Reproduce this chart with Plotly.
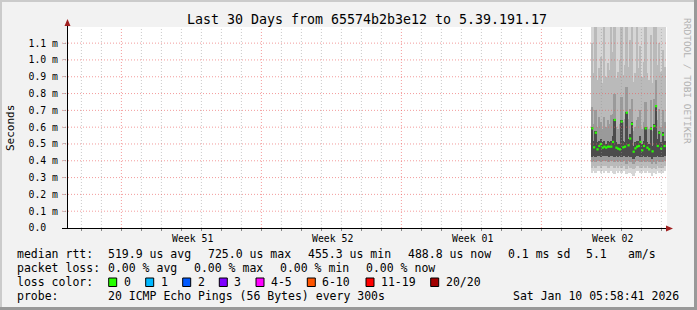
import plotly.graph_objects as go

# ---------------- data ----------------
title_text = "Last 30 Days from 65574b2b3e12 to 5.39.191.17"
y_label = "Seconds"
y_ticks = [0.0, 0.1, 0.2, 0.3, 0.4, 0.5, 0.6, 0.7, 0.8, 0.9, 1.0, 1.1]   # ms
y_ticktext = ["0.0\u00a0\u00a0", "0.1 m", "0.2 m", "0.3 m", "0.4 m", "0.5 m", "0.6 m",
              "0.7 m", "0.8 m", "0.9 m", "1.0 m", "1.1 m"]
week_labels = ["Week 51", "Week 52", "Week 01", "Week 02"]
week_label_days = [6.25, 13.25, 20.25, 27.25]          # day offset in 30-day window
week_start_days = [2.72, 9.72, 16.72, 23.72]
day_grid = [0.72 + k for k in range(30)]

data_start_day = 26.27
col_step = 0.086   # one consolidated rrd step (days)

median = [0.593, 0.480, 0.567, 0.468, 0.488, 0.500, 0.478, 0.484, 0.478, 0.484,
          0.484, 0.484, 0.512, 0.643, 0.478, 0.472, 0.468, 0.633, 0.480, 0.484,
          0.686, 0.492, 0.532, 0.619, 0.454, 0.474, 0.484, 0.488, 0.512, 0.462,
          0.488, 0.593, 0.478, 0.468, 0.591, 0.456, 0.607, 0.725, 0.488, 0.567,
          0.472, 0.555, 0.488]
hi_d = [0.60, 0.52, 0.58, 0.51, 0.52, 0.53, 0.51, 0.52, 0.50, 0.52,
        0.51, 0.52, 0.55, 0.65, 0.51, 0.50, 0.50, 0.64, 0.52, 0.51,
        0.69, 0.53, 0.56, 0.63, 0.49, 0.51, 0.52, 0.52, 0.55, 0.50,
        0.52, 0.60, 0.51, 0.50, 0.60, 0.49, 0.62, 0.73, 0.53, 0.58,
        0.51, 0.57, 0.52]
lo_d = [0.42, 0.43, 0.42, 0.43, 0.43, 0.42, 0.43, 0.43, 0.43, 0.43,
        0.42, 0.43, 0.43, 0.42, 0.43, 0.42, 0.43, 0.42, 0.43, 0.43,
        0.42, 0.43, 0.42, 0.42, 0.41, 0.42, 0.43, 0.43, 0.42, 0.42,
        0.43, 0.42, 0.43, 0.42, 0.42, 0.41, 0.42, 0.42, 0.43, 0.42,
        0.42, 0.42, 0.43]
hi_c = [0.72, 0.62, 0.70, 0.60, 0.66, 0.63, 0.59, 0.66, 0.60, 0.64,
        0.62, 0.67, 0.68, 0.80, 0.60, 0.59, 0.62, 0.78, 0.63, 0.65,
        0.84, 0.65, 0.71, 0.77, 0.58, 0.60, 0.64, 0.66, 0.70, 0.59,
        0.63, 0.75, 0.60, 0.59, 0.76, 0.58, 0.77, 0.88, 0.64, 0.71,
        0.60, 0.70, 0.63]
lo_c = [0.39, 0.40, 0.39, 0.40, 0.40, 0.39, 0.40, 0.40, 0.40, 0.39,
        0.39, 0.40, 0.40, 0.39, 0.40, 0.39, 0.40, 0.39, 0.40, 0.40,
        0.38, 0.40, 0.39, 0.39, 0.38, 0.39, 0.40, 0.40, 0.39, 0.39,
        0.40, 0.39, 0.40, 0.39, 0.39, 0.38, 0.39, 0.38, 0.40, 0.39,
        0.39, 0.39, 0.40]
hi_b = [1.10, 0.92, 1.25, 0.88, 0.95, 1.02, 0.86, 1.25, 0.90, 0.98,
        0.94, 1.25, 1.05, 1.25, 0.89, 0.93, 1.00, 1.25, 0.91, 0.97,
        1.25, 0.96, 1.12, 1.25, 0.87, 0.92, 1.25, 0.95, 1.08, 0.90,
        0.99, 1.25, 0.92, 0.88, 1.15, 0.86, 1.25, 1.25, 0.97, 1.10,
        0.93, 1.06, 0.96]
lo_b = [0.36, 0.37, 0.36, 0.37, 0.37, 0.36, 0.37, 0.37, 0.37, 0.36,
        0.36, 0.37, 0.37, 0.36, 0.37, 0.36, 0.37, 0.36, 0.37, 0.37,
        0.35, 0.37, 0.36, 0.36, 0.35, 0.36, 0.37, 0.37, 0.36, 0.36,
        0.37, 0.36, 0.37, 0.36, 0.36, 0.35, 0.36, 0.35, 0.37, 0.36,
        0.36, 0.36, 0.37]
hi_a = [1.25, 1.25, 1.30, 1.25, 1.25, 1.28, 1.25, 1.30, 1.25, 1.26,
        1.25, 1.30, 1.27, 1.30, 1.25, 1.25, 1.26, 1.30, 1.25, 1.25,
        1.30, 1.25, 1.28, 1.30, 1.25, 1.25, 1.30, 1.25, 1.27, 1.25,
        1.26, 1.30, 1.25, 1.25, 1.28, 1.25, 1.30, 1.30, 1.25, 1.28,
        1.25, 1.27, 1.25]
lo_a = [0.33, 0.34, 0.33, 0.34, 0.34, 0.33, 0.34, 0.33, 0.34, 0.33,
        0.33, 0.34, 0.33, 0.32, 0.34, 0.33, 0.34, 0.33, 0.34, 0.34,
        0.32, 0.33, 0.33, 0.32, 0.31, 0.33, 0.34, 0.34, 0.33, 0.33,
        0.34, 0.33, 0.34, 0.33, 0.33, 0.31, 0.33, 0.32, 0.34, 0.33,
        0.33, 0.33, 0.34]

rtt_items = ["519.9 us avg", "725.0 us max", "455.3 us min", "488.8 us now", "0.1 ms sd", "5.1", "am/s"]
loss_items = ["0.00 % avg", "0.00 % max", "0.00 % min", "0.00 % now"]
loss_labels = ["0", "1", "2", "3", "4-5", "6-10", "11-19", "20/20"]
loss_colors = ["#26ff00", "#00b8ff", "#0059ff", "#7e00ff", "#ff00ff", "#ff5500", "#ff0000", "#a10000"]
probe_text = "20 ICMP Echo Pings (56 Bytes) every 300s"
stamp_text = "Sat Jan 10 05:58:41 2026"
watermark = "RRDTOOL / TOBI OETIKER"

# ---------------- layout constants ----------------
W, H = 697, 310
L, T, PW, PH = 67, 27, 600, 201
B = H - T - PH
R = W - L - PW
Y_TOP = 1.196
MONO = "DejaVu Sans Mono"


def px2x(p):
    return (p - L) / PW


def px2y(p):
    return (T + PH - p) / PH


xs = [data_start_day + col_step * i for i in range(len(median))]

fig = go.Figure()

bands = [(lo_a, hi_a, "#d6d6d6"), (lo_b, hi_b, "#bababa"),
         (lo_c, hi_c, "#9a9a9a"), (lo_d, hi_d, "#4c4c4c")]
for lo, hi, col in bands:
    fig.add_trace(go.Bar(x=xs, base=lo, y=[h - l for l, h in zip(lo, hi)],
                         width=col_step, marker=dict(color=col, line=dict(width=0)),
                         showlegend=False, hoverinfo="skip"))

fig.add_trace(go.Scatter(x=xs, y=median, mode="markers",
                         marker=dict(symbol="square", size=2.2, color=loss_colors[0],
                                     line=dict(width=0)),
                         showlegend=False))

shapes = []
# grid (drawn above smoke like rrdtool)
for d in day_grid:
    if any(abs(d - w) < 1e-6 for w in week_start_days):
        continue
    shapes.append(dict(type="line", xref="x", yref="paper", x0=d, x1=d, y0=0, y1=1,
                       line=dict(color="rgba(150,150,150,0.5)", width=1, dash="1px,2px"),
                       layer="above"))
for d in week_start_days:
    shapes.append(dict(type="line", xref="x", yref="paper", x0=d, x1=d, y0=0, y1=1,
                       line=dict(color="rgba(235,90,90,0.6)", width=1, dash="1px,2px"),
                       layer="above"))
for v in y_ticks[1:]:
    shapes.append(dict(type="line", xref="paper", yref="y", x0=px2x(62), x1=px2x(668), y0=v, y1=v,
                       line=dict(color="rgba(235,90,90,0.6)", width=1, dash="1px,2px"),
                       layer="above"))
# axes lines + arrows
shapes.append(dict(type="line", xref="paper", yref="paper", x0=px2x(67.5), x1=px2x(67.5),
                   y0=px2y(228), y1=px2y(23), line=dict(color="black", width=1), layer="above"))
shapes.append(dict(type="line", xref="paper", yref="paper", x0=px2x(62), x1=px2x(668),
                   y0=px2y(228.5), y1=px2y(228.5), line=dict(color="black", width=1), layer="above"))
shapes.append(dict(type="path", xref="paper", yref="paper",
                   path=f"M {px2x(64.5)} {px2y(26)} L {px2x(70.5)} {px2y(26)} L {px2x(67.5)} {px2y(19)} Z",
                   fillcolor="#a02020", line=dict(width=0), layer="above"))
shapes.append(dict(type="path", xref="paper", yref="paper",
                   path=f"M {px2x(666)} {px2y(225.5)} L {px2x(666)} {px2y(231.5)} L {px2x(673)} {px2y(228.5)} Z",
                   fillcolor="#a02020", line=dict(width=0), layer="above"))
# frame shading
shapes += [
    dict(type="rect", xref="paper", yref="paper", x0=px2x(0), x1=px2x(2), y0=px2y(310), y1=px2y(0),
         fillcolor="#cbcbcb", line=dict(width=0)),
    dict(type="rect", xref="paper", yref="paper", x0=px2x(0), x1=px2x(697), y0=px2y(2), y1=px2y(0),
         fillcolor="#cbcbcb", line=dict(width=0)),
    dict(type="rect", xref="paper", yref="paper", x0=px2x(694), x1=px2x(697), y0=px2y(310), y1=px2y(0),
         fillcolor="#999999", line=dict(width=0)),
    dict(type="rect", xref="paper", yref="paper", x0=px2x(0), x1=px2x(697), y0=px2y(310), y1=px2y(307),
         fillcolor="#999999", line=dict(width=0)),
]
# loss colour boxes
box_left = [108.7, 145.7, 182.7, 219.3, 256, 307.3, 366, 430.7]
for bx, col in zip(box_left, loss_colors):
    shapes.append(dict(type="rect", xref="paper", yref="paper", x0=px2x(bx), x1=px2x(bx + 8),
                       y0=px2y(286.5), y1=px2y(278), fillcolor=col,
                       line=dict(color="black", width=1)))

ann = []


def text(x, y, s, size=11.5, anchor="left", color="black", angle=0):
    ann.append(dict(xref="paper", yref="paper", x=px2x(x), y=px2y(y), text=s, showarrow=False,
                    xanchor=anchor, yanchor="middle", borderpad=0, textangle=angle,
                    font=dict(family=MONO, size=size, color=color)))


for lab, d in zip(week_labels, week_label_days):
    ann.append(dict(xref="x", yref="paper", x=d, y=px2y(238.3), text=lab, showarrow=False,
                    xanchor="center", yanchor="middle", borderpad=0,
                    font=dict(family=MONO, size=9.8, color="black")))

text(16, 254, "median rtt:")
for s, x in zip(rtt_items, [107.3, 207.3, 306.7, 406.7, 506.7, 585.0, 627.3]):
    text(x, 254, s)
text(16, 268.3, "packet loss:")
for s, x in zip(loss_items, [107.3, 193.3, 279.3, 365.0]):
    text(x, 268.3, s)
text(16, 282.3, "loss color:")
for bx, s in zip(box_left, loss_labels):
    text(bx + 14, 282.3, s)
text(16, 296, "probe:")
text(107.3, 296, probe_text)
text(680, 296, stamp_text, anchor="right")
text(10, 128, y_label, size=11, anchor="center", angle=-90)
text(688, 81, watermark, size=9.5, anchor="center", color="#b0b0b0", angle=90)

fig.update_layout(
    width=W, height=H, margin=dict(l=L, r=R, t=T, b=B, pad=0),
    paper_bgcolor="#f2f2f2", plot_bgcolor="white",
    barmode="overlay", bargap=0,
    title=dict(text=title_text, x=0.5, xanchor="center", xref="paper",
               y=1 - 19 / H, yanchor="middle", yref="container",
               font=dict(family=MONO, size=13.3, color="black")),
    xaxis=dict(range=[0, 30], showgrid=False, zeroline=False, showline=False,
               tickvals=day_grid, ticktext=[""] * len(day_grid), ticks="outside", ticklen=2,
               tickcolor="#888888", fixedrange=True),
    yaxis=dict(range=[0, Y_TOP], showgrid=False, zeroline=False, showline=False,
               tickvals=y_ticks, ticktext=y_ticktext, ticks="outside", ticklen=3,
               tickcolor="#bbbbbb", ticklabelstandoff=3,
               tickfont=dict(family=MONO, size=9.8, color="black"), fixedrange=True),
    shapes=shapes, annotations=ann, showlegend=False,
)

fig.write_html("out.html")
